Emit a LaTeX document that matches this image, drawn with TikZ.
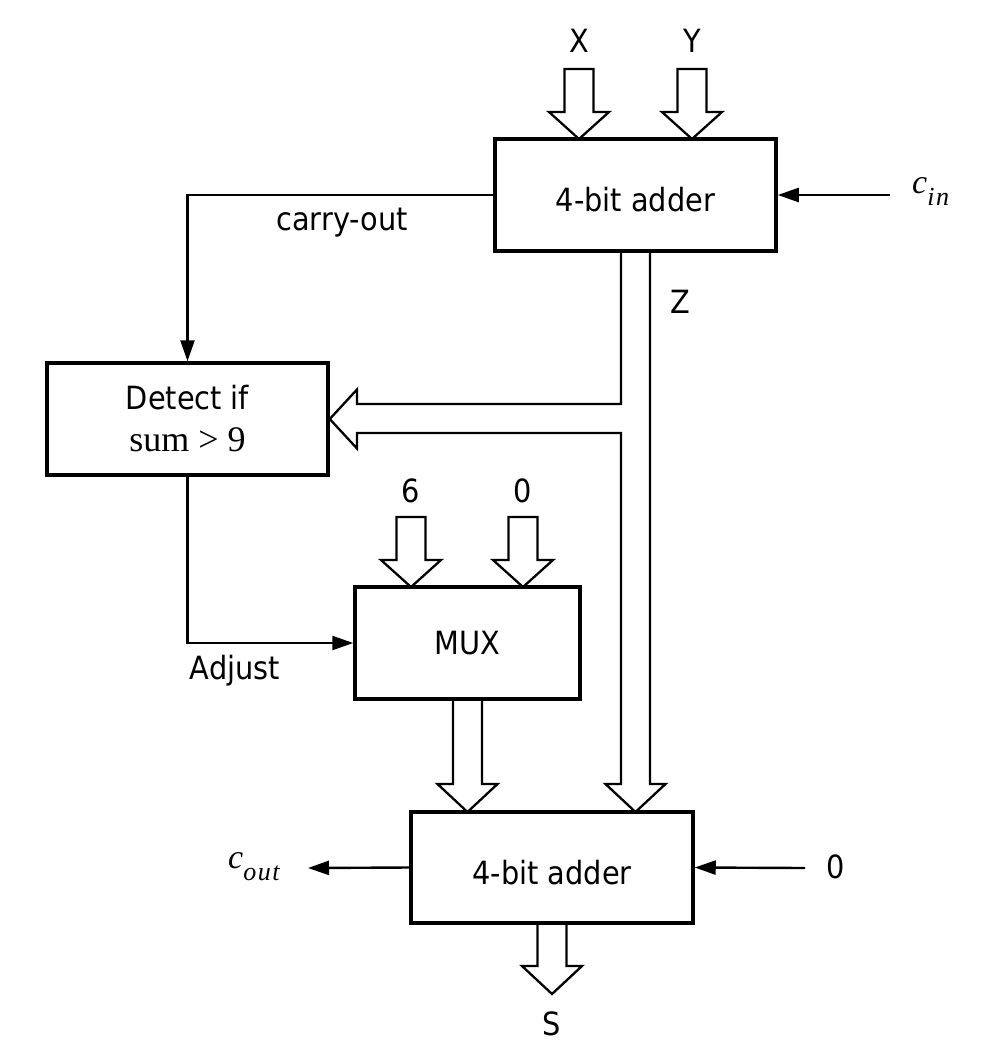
\documentclass[tikz,border=0pt]{standalone}
\usepackage{fontspec}
\setmainfont[FakeStretch=0.9]{DejaVu Sans}
\newfontfamily\serif{Liberation Serif}
\usetikzlibrary{arrows.meta}
\newcommand\busdn[4]{% cx, ytop, yhead, ytip  (closed top)
  \draw[bus] (#1-14.5,#2) -- (#1-14.5,#3) -- (#1-30,#3) -- (#1,#4) -- (#1+30,#3) -- (#1+14.5,#3) -- (#1+14.5,#2) -- cycle;}
\newcommand\busopen[4]{% cx, ytop, yhead, ytip  (open top)
  \draw[bus] (#1-14.5,#2) -- (#1-14.5,#3) -- (#1-30,#3) -- (#1,#4) -- (#1+30,#3) -- (#1+14.5,#3) -- (#1+14.5,#2);}
\begin{document}
\begin{tikzpicture}[x=1pt,y=-1pt,
  box/.style={draw, line width=3.5pt, minimum width=281pt, minimum height=112pt, inner sep=0pt,
    font=\fontsize{32}{42}\selectfont, align=center},
  wire/.style={line width=2.4pt, -{Triangle[length=21pt,width=14pt]}},
  bus/.style={line width=2.3pt, line join=miter},
  lbl/.style={font=\fontsize{32}{36}\selectfont, inner sep=0pt, anchor=base}]
\useasboundingbox (0,0) rectangle (994,1058);
\fill[white] (0,0) rectangle (994,1058);

% blocks
\node[box, text height=34pt] (add1) at (635.5,195) {4-bit adder};
\node[box] (det) at (187.5,419) {Detect if\\{\serif\fontsize{36}{42}\selectfont sum > 9}};
\node[box, minimum width=225pt] (mux) at (467.5,643) {MUX};
\node[box, text height=34pt, minimum width=282pt, minimum height=111pt] (add2) at (552,867.5) {4-bit adder};

% labels
\node[lbl] (lx) at (579,52) {X};
\node[lbl] (ly) at (692,52) {Y};
\node[lbl] (lz) at (680,313) {Z};
\node[lbl] (lcarry) at (342,230) {carry-out};
\node[lbl] (l6) at (411,502) {6};
\node[lbl] (l0) at (523,502) {0};
\node[lbl] (ladj) at (235,679) {Adjust};
\node[lbl] (ls) at (552,1035) {S};
\node[lbl] (lzero) at (836,878) {0};
\node[inner sep=0pt, anchor=base west] (lcin) at (912,193)
  {\serif\itshape\fontsize{34}{36}\selectfont c\raisebox{-12pt}{\fontsize{26}{26}\selectfont i\kern1.5pt n}};
\node[inner sep=0pt, anchor=base west] (lcout) at (228,868)
  {\serif\itshape\fontsize{34}{36}\selectfont c\raisebox{-12pt}{\fontsize{26}{26}\selectfont o\kern1.5pt u\kern1.5pt t}};

% single wires
\coordinate (cinS) at (890,195);
\coordinate (coutE) at (308,868);
\coordinate (zeroS) at (805,868);
\draw[wire] (add1.west) -| (det.north);
\draw[wire] (det.south) |- (mux.west);
\draw[wire] (cinS) -- (add1.east);
\draw[wire] (add2.west) -- (coutE);
\draw[wire] (zeroS) -- (add2.east);

% buses
\busdn{579}{69}{112}{139}
\busdn{692}{69}{112}{139}
\busdn{411}{517}{560}{587}
\busdn{523}{517}{560}{587}
\busopen{467.5}{699}{784}{812}
\busopen{552}{923}{966}{994}
\draw[bus] (621,251) -- (621,404) -- (357,404) -- (357,389.5) -- (det.east)
  -- (357,448.5) -- (357,433) -- (621,433) -- (621,784) -- (605.5,784)
  -- (635.5,812) -- (665.5,784) -- (650,784) -- (650,251);
\end{tikzpicture}
\end{document}
